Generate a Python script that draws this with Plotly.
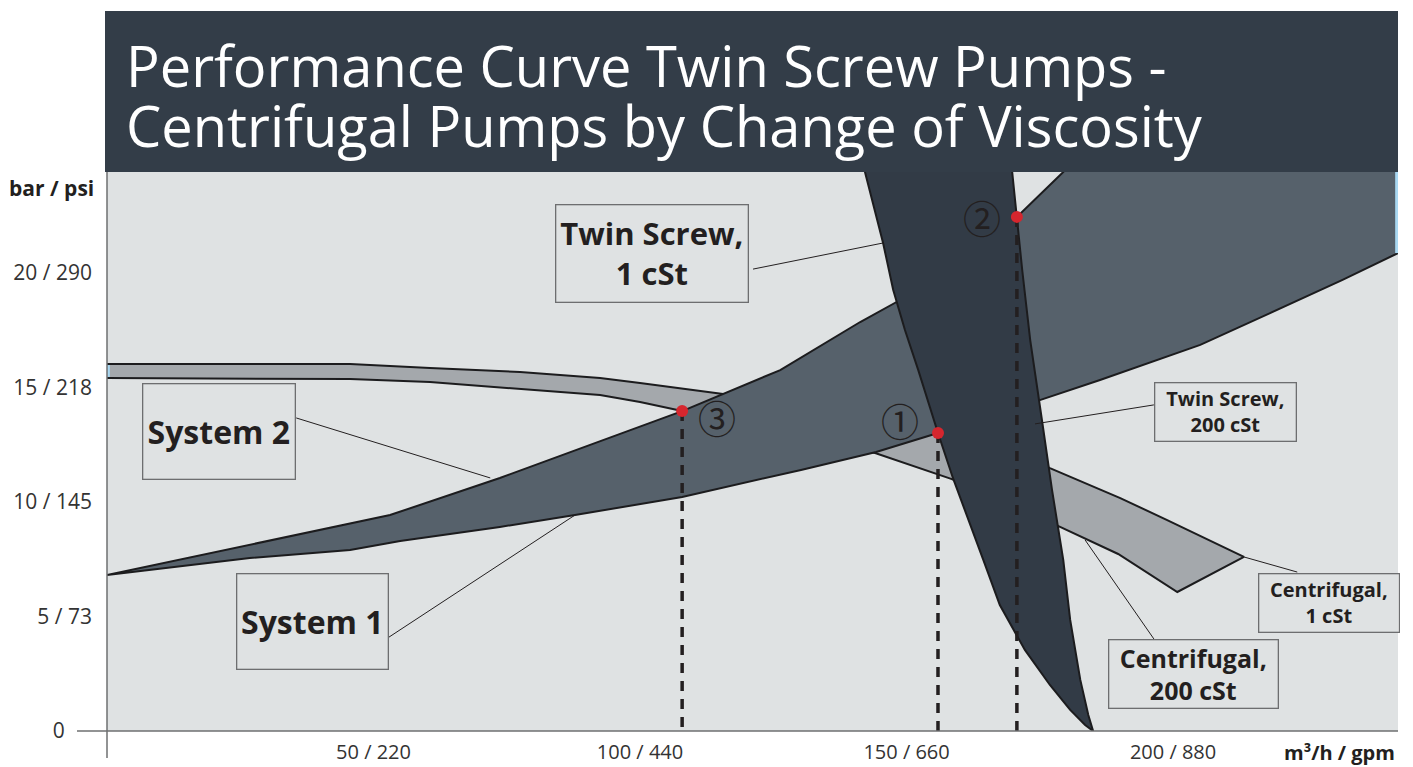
import plotly.graph_objects as go

# ---------------- data (x: m³/h, y: bar) ----------------
# Centrifugal pump band (upper edge left->right, lower edge left->right)
cent_upper_x = [0, 45.6, 60.6, 77.5, 92.5, 100.0, 115.6, 130.0, 152.5, 165.7, 176.9, 190.1, 198.9, 213.3]
cent_upper_y = [16.03, 16.03, 15.85, 15.68, 15.41, 15.20, 14.72, 14.24, 13.36, 12.71, 11.48, 10.17, 9.21, 7.60]
cent_lower_x = [0, 45.6, 60.6, 92.5, 100.0, 107.9, 130.0, 144.1, 158.5, 178.8, 189.7, 200.8]
cent_lower_y = [15.41, 15.37, 15.24, 14.67, 14.37, 13.97, 12.88, 12.14, 11.00, 8.91, 7.73, 6.07]

# System curves
sys2_x = [0, 26.8, 53.1, 73.7, 100.0, 107.9, 126.3, 141.3, 148.8, 170.7, 179.4, 186.3, 245.0]
sys2_y = [6.81, 8.12, 9.43, 11.05, 13.28, 13.97, 15.76, 17.86, 18.82, 22.45, 24.41, 26.0, 26.0]
sys1_x = [0, 26.8, 45.6, 55.0, 73.7, 87.8, 107.9, 130.2, 144.3, 155.9, 175.0, 186.3, 205.1, 218.2, 231.7, 242.2, 245.0]
sys1_y = [6.81, 7.55, 7.90, 8.30, 8.91, 9.43, 10.22, 11.40, 12.18, 13.01, 14.45, 15.33, 16.86, 18.25, 19.69, 20.87, 21.18]

# Twin screw pump band (1 cSt edge and 200 cSt edge, top->bottom)
ts1_x = [141.1, 142.2, 145.6, 147.5, 149.7, 152.2, 155.9, 158.7, 164.4, 167.5, 172.2, 176.9, 180.7, 183.5, 185.0]
ts1_y = [25.37, 24.41, 21.31, 19.26, 17.51, 15.76, 13.01, 11.05, 7.47, 5.50, 3.54, 2.01, 0.92, 0.26, 0.0]
ts200_x = [169.4, 169.8, 170.7, 171.7, 173.2, 175.4, 177.3, 179.4, 180.7, 182.6, 184.1, 185.0]
ts200_y = [25.37, 24.41, 22.45, 20.13, 17.07, 13.58, 10.52, 7.47, 4.85, 2.23, 0.70, 0.0]

# Operating points
op_x = [155.9, 170.7, 107.9]
op_y = [13.01, 22.45, 13.97]
op_labels = ["①", "②", "③"]

# Axis ticks
x_tickvals = [50, 100, 150, 200]
x_ticktext = ["50 / 220", "100 / 440", "150 / 660", "200 / 880"]
y_tickvals = [0, 5, 10, 15, 20]
y_ticktext = ["0" + "&nbsp;" * 5, "5 / 73", "10 / 145", "15 / 218", "20 / 290"]

X_MAX = 242.2
Y_MAX = 24.41

# ---------------- styles ----------------
BG = "#dfe2e3"
C_CENT = "#a4a8ac"
C_SYS = "#56616b"
C_TS = "#323b46"
C_TITLE = "#333d48"
C_LINE = "#1c1c1e"
C_TEXT = "#231f20"
C_RED = "#d6262e"
FONT = "Open Sans"

fig = go.Figure()

def band(ux, uy, lx, ly, color):
    fig.add_trace(go.Scatter(
        x=ux + lx[::-1], y=uy + ly[::-1], mode="lines", fill="toself",
        fillcolor=color, line=dict(color=C_LINE, width=2), hoverinfo="skip",
        showlegend=False))

band(cent_upper_x, cent_upper_y, cent_lower_x, cent_lower_y, C_CENT)
band(sys2_x, sys2_y, sys1_x, sys1_y, C_SYS)
band(ts1_x, ts1_y, ts200_x, ts200_y, C_TS)

# light blue clipping edges
fig.add_trace(go.Scatter(x=[X_MAX - 0.25, X_MAX - 0.25], y=[sys1_y[-2], Y_MAX],
                         mode="lines", line=dict(color="#a9d8f2", width=3),
                         hoverinfo="skip", showlegend=False))
fig.add_trace(go.Scatter(x=[0.25, 0.25], y=[cent_lower_y[0] + 0.05, cent_upper_y[0] - 0.05],
                         mode="lines", line=dict(color="#a9d8f2", width=3),
                         hoverinfo="skip", showlegend=False))

# dashed drop lines
for xv, yv in zip(op_x, op_y):
    fig.add_trace(go.Scatter(x=[xv, xv], y=[yv, 0], mode="lines",
                             line=dict(color=C_TEXT, width=3.5, dash="10px,8px"),
                             hoverinfo="skip", showlegend=False))

fig.add_trace(go.Scatter(x=op_x, y=op_y, mode="markers",
                         marker=dict(color=C_RED, size=12), hoverinfo="skip",
                         showlegend=False))

# ---------------- layout ----------------
W, H = 1413, 767
L, R, T, B = 107, 15, 172, 36
PW, PH = W - L - R, H - T - B

def px(xp):
    return (xp - L) / PW

def py(yp):
    return (H - B - yp) / PH

shapes = []
# title bar
shapes.append(dict(type="rect", xref="paper", yref="paper", x0=px(105), x1=1, y0=1, y1=py(11),
                   fillcolor=C_TITLE, line=dict(width=0), layer="above"))
# axis lines
shapes.append(dict(type="line", xref="paper", yref="paper", x0=0, x1=0, y0=py(758), y1=1,
                   line=dict(color="#6e6f71", width=1.5)))
shapes.append(dict(type="line", xref="paper", yref="paper", x0=px(77), x1=1, y0=0, y1=0,
                   line=dict(color="#6e6f71", width=1.5)))

# leader lines (data coordinates)
leaders = [
    ((121.2, 20.17), (145.6, 21.31)),
    ((35.5, 13.67), (71.9, 11.05)),
    ((52.9, 4.10), (87.8, 9.43)),
    ((196.4, 14.24), (174.1, 13.41)),
    ((213.3, 7.60), (223.3, 6.94)),
    ((183.5, 8.34), (196.4, 4.02)),
]
for (x0, y0), (x1, y1) in leaders:
    shapes.append(dict(type="line", xref="x", yref="y", x0=x0, y0=y0, x1=x1, y1=y1,
                       line=dict(color=C_TEXT, width=1)))

annotations = []
# title
annotations.append(dict(text="Performance Curve Twin Screw Pumps -", xref="paper", yref="paper",
                        x=px(124), y=py(65), xanchor="left", yanchor="middle", showarrow=False,
                        font=dict(family=FONT, size=56, color="white")))
annotations.append(dict(text="Centrifugal Pumps by Change of Viscosity", xref="paper", yref="paper",
                        x=px(124), y=py(125), xanchor="left", yanchor="middle", showarrow=False,
                        font=dict(family=FONT, size=56, color="white")))

# boxed labels: text, center (data), box size (px), font size
boxes = [
    ("<b>Twin Screw,<br>1 cSt</b>", 102.2, 20.83, 193, 98, 31),
    ("<b>System 2</b>", 21.1, 13.10, 153, 96, 32),
    ("<b>System 1</b>", 38.6, 4.76, 152, 96, 32),
    ("<b>Twin Screw,<br>200 cSt</b>", 209.8, 13.95, 142, 59, 20),
    ("<b>Centrifugal,<br>1 cSt</b>", 229.2, 5.61, 141, 59, 20),
    ("<b>Centrifugal,<br>200 cSt</b>", 203.9, 2.47, 170, 69, 25),
]
for text, xc, yc, bw, bh, fs in boxes:
    annotations.append(dict(text=text, x=xc, y=yc, xref="x", yref="y", showarrow=False,
                            width=bw - 2, height=bh - 2, borderpad=0, borderwidth=1.3,
                            bordercolor="#6d6e70", align="center", valign="middle",
                            xanchor="center", yanchor="middle",
                            font=dict(family=FONT, size=fs, color=C_TEXT)))

# circled point numbers
shifts = [(-38, 14), (-35, 0), (35, -5)]
for (xv, yv), lab, (sx, sy) in zip(zip(op_x, op_y), op_labels, shifts):
    annotations.append(dict(text=lab, x=xv, y=yv, xref="x", yref="y", showarrow=False,
                            xshift=sx, yshift=sy, xanchor="center", yanchor="middle",
                            font=dict(family="Noto Sans CJK JP", size=38, color=C_TEXT)))

# axis titles
annotations.append(dict(text="<b>bar / psi</b>", xref="paper", yref="paper", x=px(51), y=py(188),
                        xanchor="center", yanchor="middle",
                        showarrow=False, font=dict(family=FONT, size=21, color=C_TEXT)))
annotations.append(dict(text="<b>m³/h / gpm</b>", xref="paper", yref="paper", x=px(1339), y=py(752),
                        xanchor="center", yanchor="middle",
                        showarrow=False, font=dict(family=FONT, size=20, color=C_TEXT)))

fig.update_layout(
    width=W, height=H, autosize=False,
    margin=dict(l=L, r=R, t=T, b=B, pad=0, autoexpand=False),
    paper_bgcolor="white", plot_bgcolor=BG,
    showlegend=False,
    shapes=shapes, annotations=annotations,
    font=dict(family=FONT, size=20, color="#333333"),
)
fig.update_xaxes(range=[0, X_MAX], showgrid=False, zeroline=False, showline=False,
                 tickvals=x_tickvals, ticktext=x_ticktext, ticks="", ticklabelstandoff=7,
                 automargin=False,
                 tickfont=dict(family=FONT, size=20, color="#333333"), fixedrange=True)
fig.update_yaxes(range=[0, Y_MAX], showgrid=False, zeroline=False, showline=False,
                 tickvals=y_tickvals, ticktext=y_ticktext, ticks="", ticklabelstandoff=14,
                 automargin=False,
                 tickfont=dict(family=FONT, size=21, color="#333333"), fixedrange=True)

fig.write_html("out.html", config={"displayModeBar": False},
               post_script="document.body.style.margin='0';")
